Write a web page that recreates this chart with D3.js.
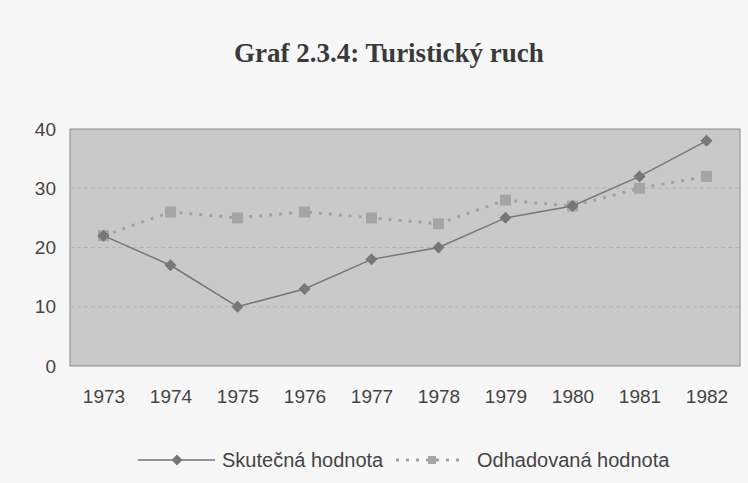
<!DOCTYPE html>
<html>
<head>
  <meta charset="utf-8">
  <title>Graf 2.3.4</title>
  <style>
    body { margin: 0; background: #f7f7f7; }
  </style>
</head>
<body>
  <script src="https://d3js.org/d3.v7.min.js"></script>
  <script>
    const width = 748;
    const height = 483;

    const years = ['1973', '1974', '1975', '1976', '1977', '1978', '1979', '1980', '1981', '1982'];
    const actual = [22, 17, 10, 13, 18, 20, 25, 27, 32, 38];
    const estimate = [22, 26, 25, 26, 25, 24, 28, 27, 30, 32];
    const yTicks = [0, 10, 20, 30, 40];

    const plot = { left: 70, right: 740, top: 129, bottom: 366 };
    const font = 'Liberation Sans, Arial, sans-serif';

    const svg = d3.select('body')
      .append('svg')
      .attr('width', width)
      .attr('height', height)
      .style('display', 'block');

    svg.append('rect')
      .attr('width', width)
      .attr('height', height)
      .attr('fill', '#f7f7f7');

    svg.append('text')
      .attr('x', 389)
      .attr('y', 62)
      .attr('text-anchor', 'middle')
      .attr('font-family', 'Liberation Serif, serif')
      .attr('font-weight', 'bold')
      .attr('font-size', 27)
      .attr('fill', '#3a3a3a')
      .text('Graf 2.3.4: Turistický ruch');

    const x = d3.scalePoint()
      .domain(years)
      .range([plot.left, plot.right])
      .padding(0.5);

    const y = d3.scaleLinear()
      .domain([0, 40])
      .range([plot.bottom, plot.top]);

    // plot area
    svg.append('rect')
      .attr('x', plot.left)
      .attr('y', plot.top)
      .attr('width', plot.right - plot.left)
      .attr('height', plot.bottom - plot.top)
      .attr('fill', '#c9c9c9')
      .attr('stroke', '#8a8a8a')
      .attr('stroke-width', 1);

    // gridlines
    svg.append('g')
      .selectAll('line')
      .data(yTicks.filter(d => d > 0 && d < 40))
      .join('line')
      .attr('x1', plot.left)
      .attr('x2', plot.right)
      .attr('y1', d => y(d))
      .attr('y2', d => y(d))
      .attr('stroke', '#b3b3b3')
      .attr('stroke-dasharray', '4,3');

    const yAxis = svg.append('g')
      .attr('transform', `translate(${plot.left},0)`)
      .call(d3.axisLeft(y).tickValues(yTicks).tickSize(0).tickPadding(14));
    yAxis.select('.domain').remove();
    yAxis.selectAll('text')
      .attr('font-family', font)
      .attr('font-size', 19)
      .attr('fill', '#444');

    const xAxis = svg.append('g')
      .attr('transform', `translate(0,${plot.bottom})`)
      .call(d3.axisBottom(x).tickSize(0));
    xAxis.select('.domain').remove();
    xAxis.selectAll('text')
      .attr('y', 37)
      .attr('dy', null)
      .attr('font-family', font)
      .attr('font-size', 19)
      .attr('fill', '#444');

    const line = d3.line()
      .x((d, i) => x(years[i]))
      .y(d => y(d));

    // estimate series (dotted, squares)
    svg.append('path')
      .datum(estimate)
      .attr('d', line)
      .attr('fill', 'none')
      .attr('stroke', '#a3a3a3')
      .attr('stroke-width', 3)
      .attr('stroke-dasharray', '3,7');

    svg.append('g')
      .selectAll('rect')
      .data(estimate)
      .join('rect')
      .attr('x', (d, i) => x(years[i]) - 5.5)
      .attr('y', d => y(d) - 5.5)
      .attr('width', 11)
      .attr('height', 11)
      .attr('fill', '#a5a5a5');

    // actual series (solid, diamonds)
    svg.append('path')
      .datum(actual)
      .attr('d', line)
      .attr('fill', 'none')
      .attr('stroke', '#777')
      .attr('stroke-width', 1.5);

    const diamond = d3.symbol(d3.symbolSquare, 72)();
    svg.append('g')
      .selectAll('path')
      .data(actual)
      .join('path')
      .attr('transform', (d, i) => `translate(${x(years[i])},${y(d)}) rotate(45)`)
      .attr('d', diamond)
      .attr('fill', '#777');

    // legend
    const legend = svg.append('g');
    const ly = 460;
    legend.append('line')
      .attr('x1', 138).attr('x2', 215)
      .attr('y1', ly).attr('y2', ly)
      .attr('stroke', '#777').attr('stroke-width', 1.5);
    legend.append('path')
      .attr('transform', `translate(177,${ly}) rotate(45)`)
      .attr('d', d3.symbol(d3.symbolSquare, 60)())
      .attr('fill', '#777');
    legend.append('text')
      .attr('x', 222).attr('y', 467)
      .attr('font-family', font).attr('font-size', 20).attr('fill', '#444')
      .text('Skutečná hodnota');

    legend.append('line')
      .attr('x1', 396).attr('x2', 466)
      .attr('y1', ly).attr('y2', ly)
      .attr('stroke', '#a3a3a3').attr('stroke-width', 3)
      .attr('stroke-dasharray', '3,7');
    legend.append('rect')
      .attr('x', 428).attr('y', ly - 4)
      .attr('width', 8).attr('height', 8)
      .attr('fill', '#a5a5a5');
    legend.append('text')
      .attr('x', 477).attr('y', 467)
      .attr('font-family', font).attr('font-size', 20).attr('fill', '#444')
      .text('Odhadovaná hodnota');
  </script>
</body>
</html>
